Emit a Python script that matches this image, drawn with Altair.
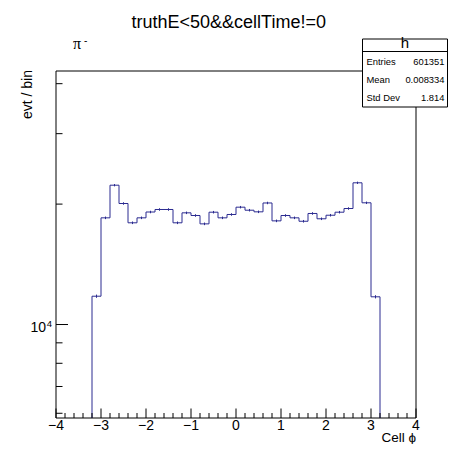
import math
import altair as alt
import pandas as pd

# ---------------- data ----------------
bin_low = [-3.2, -3.0, -2.8, -2.6, -2.4, -2.2, -2.0, -1.8, -1.6, -1.4, -1.2, -1.0,
           -0.8, -0.6, -0.4, -0.2, 0.0, 0.2, 0.4, 0.6, 0.8, 1.0, 1.2, 1.4,
           1.6, 1.8, 2.0, 2.2, 2.4, 2.6, 2.8, 3.0]
bin_high = [-3.0, -2.8, -2.6, -2.4, -2.2, -2.0, -1.8, -1.6, -1.4, -1.2, -1.0, -0.8,
            -0.6, -0.4, -0.2, 0.0, 0.2, 0.4, 0.6, 0.8, 1.0, 1.2, 1.4, 1.6,
            1.8, 2.0, 2.2, 2.4, 2.6, 2.8, 3.0, 3.2]
counts = [11770, 18480, 22300, 20070, 17960, 18480, 19110, 19390, 19390, 17960,
          19020, 18730, 17850, 19090, 18480, 18840, 19650, 19310, 19130, 20130,
          18160, 18730, 18480, 18120, 18950, 18380, 18760, 19090, 19500, 22610,
          20150, 11730]

x_major = [-4, -3, -2, -1, 0, 1, 2, 3, 4]
x_major_labels = ["\u22124", "\u22123", "\u22122", "\u22121", "0", "1", "2", "3", "4"]
x_minor = [-3.8, -3.6, -3.4, -3.2, -2.8, -2.6, -2.4, -2.2, -1.8, -1.6, -1.4, -1.2,
           -0.8, -0.6, -0.4, -0.2, 0.2, 0.4, 0.6, 0.8, 1.2, 1.4, 1.6, 1.8,
           2.2, 2.4, 2.6, 2.8, 3.2, 3.4, 3.6, 3.8]
y_major = [10000]
y_minor = [6000, 7000, 8000, 9000, 20000, 30000, 40000]

title_text = "truthE<50&&cellTime!=0"
hist_name = "h"
stat_labels = ["Entries", "Mean", "Std Dev"]
stat_values = ["601351", "0.008334", "1.814"]

x_domain = [-4, 4]
y_domain = [5839, 43030]

# ---------------- build tables ----------------
step_x = [bin_low[0]] + bin_low + [bin_high[-1], bin_high[-1]]
step_y = [y_domain[0]] + counts + [counts[-1], y_domain[0]]
step_df = pd.DataFrame({"x": step_x, "y": step_y, "o": list(range(len(step_x)))})

err_df = pd.DataFrame({
    "x": [(a + b) / 2 for a, b in zip(bin_low, bin_high)],
    "lo": [c - math.sqrt(c) for c in counts],
    "hi": [c + math.sqrt(c) for c in counts],
})

W, H = 360, 347
FONT = "Liberation Sans"
LINE = "#2b2b90"

xs = alt.Scale(domain=x_domain, nice=False, zero=False)
ys = alt.Scale(type="log", domain=y_domain, nice=False)

one = pd.DataFrame({"a": [0]})

frame = alt.Chart(one).mark_rect(fill="white", stroke="black", strokeWidth=1).encode(
    x=alt.value(0), x2=alt.value(W), y=alt.value(0), y2=alt.value(H))

hist = alt.Chart(step_df).mark_line(interpolate="step-after", color=LINE, strokeWidth=1,
                                     clip=True).encode(
    x=alt.X("x:Q", scale=xs, axis=None),
    y=alt.Y("y:Q", scale=ys, axis=None),
    order="o:Q")

err = alt.Chart(err_df).mark_rule(color=LINE, strokeWidth=1).encode(
    x=alt.X("x:Q", scale=xs, axis=None),
    y=alt.Y("lo:Q", scale=ys, axis=None), y2="hi:Q")

xmaj = alt.Chart(pd.DataFrame({"x": x_major, "t": x_major_labels})).mark_rule(
    color="black", strokeWidth=1).encode(
    x=alt.X("x:Q", scale=xs, axis=None), y=alt.value(H), y2=alt.value(H - 9.5))
xmin = alt.Chart(pd.DataFrame({"x": x_minor})).mark_rule(
    color="black", strokeWidth=1).encode(
    x=alt.X("x:Q", scale=xs, axis=None), y=alt.value(H), y2=alt.value(H - 5))
xlab = alt.Chart(pd.DataFrame({"x": x_major, "t": x_major_labels})).mark_text(
    font=FONT, fontSize=14, align="center", baseline="alphabetic", color="black").encode(
    x=alt.X("x:Q", scale=xs, axis=None), y=alt.value(H + 11.5), text="t:N")

ymaj = alt.Chart(pd.DataFrame({"y": y_major})).mark_rule(
    color="black", strokeWidth=1).encode(
    y=alt.Y("y:Q", scale=ys, axis=None), x=alt.value(0), x2=alt.value(12))
ymin = alt.Chart(pd.DataFrame({"y": y_minor})).mark_rule(
    color="black", strokeWidth=1).encode(
    y=alt.Y("y:Q", scale=ys, axis=None), x=alt.value(0), x2=alt.value(6.5))
ylab10 = alt.Chart(pd.DataFrame({"y": y_major})).mark_text(
    font=FONT, fontSize=14, align="right", baseline="alphabetic", dy=7.2,
    color="black", text="10").encode(
    y=alt.Y("y:Q", scale=ys, axis=None), x=alt.value(-10))
ylabexp = alt.Chart(pd.DataFrame({"y": y_major})).mark_text(
    font=FONT, fontSize=9.5, align="left", baseline="alphabetic", dy=2.8,
    color="black", text="4").encode(
    y=alt.Y("y:Q", scale=ys, axis=None), x=alt.value(-9.3))


def label(txt, x, y, size, align="left", font=FONT, angle=0):
    kw = dict(text=txt, font=font, fontSize=size, align=align,
              baseline="alphabetic", color="black")
    if angle:
        kw["angle"] = angle
    return alt.Chart(one).mark_text(**kw).encode(x=alt.value(x), y=alt.value(y))


title = label(title_text, 172.7, -43, 18, align="center")
pi = label("\u03c0", 17, -22.5, 16, font="Liberation Serif")
pi_minus = label("-", 28, -27, 10)
ytitle = label("evt / bin", -24.5, -1, 14, align="right", angle=270)
xtitle = label("Cell \u03d5", W, 371, 13.5, align="right")

BX0, BX1, BY0, BSEP, BY1 = 306.5, 391.5, -32, -19.5, 36
box = alt.Chart(one).mark_rect(fill="white", stroke="black", strokeWidth=1).encode(
    x=alt.value(BX0), x2=alt.value(BX1), y=alt.value(BY0), y2=alt.value(BY1))
sep = alt.Chart(one).mark_rule(color="black", strokeWidth=1).encode(
    x=alt.value(BX0), x2=alt.value(BX1), y=alt.value(BSEP))
hname = label(hist_name, (BX0 + BX1) / 2, -23, 15, align="center")
stat_layers = []
for i, (lab, val) in enumerate(zip(stat_labels, stat_values)):
    yy = -6 + 18 * i
    stat_layers.append(label(lab, BX0 + 4, yy, 9.4))
    stat_layers.append(label(val, BX1 - 3, yy, 9.4, align="right"))

chart = alt.layer(
    frame, hist, err, xmaj, xmin, xlab, ymaj, ymin, ylab10, ylabexp,
    title, pi, pi_minus, ytitle, xtitle, box, sep, hname, *stat_layers
).properties(
    width=W, height=H,
    autosize=alt.AutoSizeParams(type="none"),
    padding={"left": 48, "top": 63, "right": 32, "bottom": 26},
).configure_view(stroke=None)

chart.save("out.html", embed_options={"renderer": "svg", "actions": False})
